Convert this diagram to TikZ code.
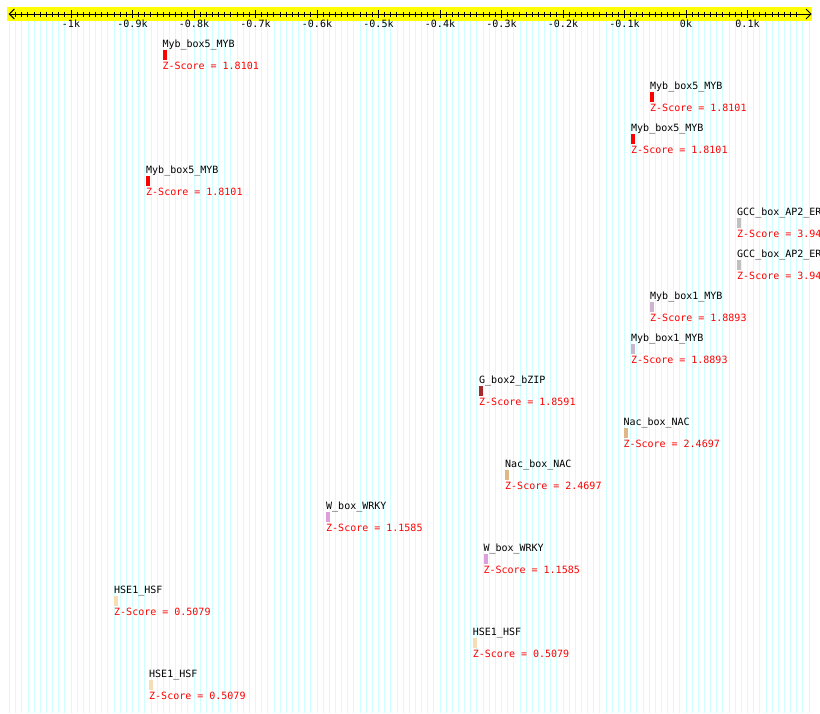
\documentclass[tikz,border=0pt]{standalone}
\usepackage{fontspec}
\setmainfont{DejaVu Sans Mono}
\definecolor{gridcyan}{RGB}{208,255,255}
\definecolor{axisyellow}{RGB}{255,255,0}
\definecolor{mybred}{RGB}{255,0,0}
\definecolor{gccgray}{RGB}{192,192,192}
\definecolor{mybone}{RGB}{205,181,205}
\definecolor{gboxbrown}{RGB}{165,42,42}
\definecolor{nactan}{RGB}{222,184,135}
\definecolor{wboxplum}{RGB}{221,160,221}
\definecolor{hsewheat}{RGB}{245,222,179}
\definecolor{zred}{RGB}{255,0,0}
\begin{document}
\begin{tikzpicture}[x=1pt,y=-1pt,
  gridline/.style={draw=gridcyan, line width=0.9pt},
  axisline/.style={draw=black, line width=1pt},
  txt/.style={inner sep=0pt, font=\fontsize{10}{12}\selectfont},
  motifname/.style={txt, anchor=base west, text=black},
  zscore/.style={txt, anchor=base west, text=zred},
  motifbar/.style={inner sep=0pt, anchor=north west, minimum width=4pt, minimum height=10pt, draw=none},
  ticklabel/.style={txt, anchor=base, text=black}
]
\useasboundingbox (0,0) rectangle (820,713);
\fill[white] (0,0) rectangle (820,713);
% grid
\foreach \v in {-110,...,20}
  \draw[gridline] ({686+6.15*\v},7) -- ({686+6.15*\v},713);
% axis band
\fill[axisyellow] (7.3,7.3) rectangle (811.7,20.7);
\draw[axisline] (9.3,14) -- (811,14);
\draw[axisline] (14.3,9) -- (9.3,14) -- (14.3,19);
\draw[axisline] (806,9) -- (811,14) -- (806,19);
\foreach \v in {-109,...,18}
  \draw[axisline] ({686+6.15*\v},11.5) -- ({686+6.15*\v},16.5);
\foreach \v/\lab [count=\k] in {-100/-1k,-90/-0.9k,-80/-0.8k,-70/-0.7k,-60/-0.6k,-50/-0.5k,-40/-0.4k,-30/-0.3k,-20/-0.2k,-10/-0.1k,0/0k,10/0.1k}{
  \draw[axisline] ({686+6.15*\v},10) -- ({686+6.15*\v},18.3);
  \node[ticklabel] (tick\k) at ({686+6.15*\v},27.3) {\lab};
}
% motifs
\foreach \nm/\xx/\cl/\sc [count=\i from 0] in {
  Myb\_box5\_MYB/162.3/mybred/1.8101,
  Myb\_box5\_MYB/650/mybred/1.8101,
  Myb\_box5\_MYB/631/mybred/1.8101,
  Myb\_box5\_MYB/146/mybred/1.8101,
  GCC\_box\_AP2\_ER/737/gccgray/3.94,
  GCC\_box\_AP2\_ER/737/gccgray/3.94,
  Myb\_box1\_MYB/650/mybone/1.8893,
  Myb\_box1\_MYB/631/mybone/1.8893,
  G\_box2\_bZIP/479/gboxbrown/1.8591,
  Nac\_box\_NAC/623.3/nactan/2.4697,
  Nac\_box\_NAC/505/nactan/2.4697,
  W\_box\_WRKY/326/wboxplum/1.1585,
  W\_box\_WRKY/483.3/wboxplum/1.1585,
  HSE1\_HSF/114/hsewheat/0.5079,
  HSE1\_HSF/472.7/hsewheat/0.5079,
  HSE1\_HSF/149/hsewheat/0.5079}{
  \node[motifname] (name\i) at (\xx,{47.3+42*\i}) {\nm};
  \node[motifbar, fill=\cl] (bar\i) at (\xx,{49.3+42*\i}) {};
  \node[zscore] (z\i) at (\xx,{69+42*\i}) {Z-Score = \sc};
}
\end{tikzpicture}
\end{document}
